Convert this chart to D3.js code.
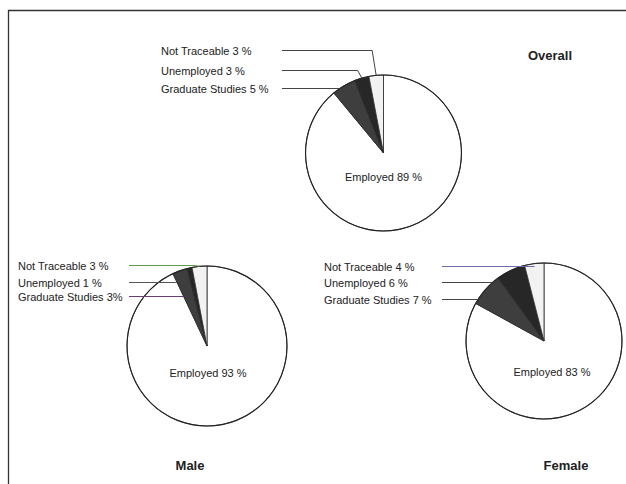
<!DOCTYPE html>
<html>
<head>
<meta charset="utf-8">
<script src="https://cdn.jsdelivr.net/npm/d3@7"></script>
<style>
  html, body { margin: 0; padding: 0; background: #fff; }
  svg { display: block; }
</style>
</head>
<body>
<div id="chart"></div>
<script>
// Slice order follows the pie clockwise from 12 o'clock
const categories = ["Employed", "Graduate Studies", "Unemployed", "Not Traceable"];
const overallValues = [89, 5, 3, 3];
const maleValues = [93, 3, 1, 3];
const femaleValues = [83, 7, 6, 4];
// Leader labels are listed top to bottom
const labelOrder = ["Not Traceable", "Unemployed", "Graduate Studies"];
const chartTitles = ["Overall", "Male", "Female"];

const W = 626, H = 484;

const fills = {
    "Employed": "#ffffff",
    "Graduate Studies": "#3e3e3e",
    "Unemployed": "#272727",
    "Not Traceable": "#f2f2f2"
};

// layout for each panel
const panels = [
    { title: chartTitles[0], values: overallValues, cx: 383.5, cy: 153, r: 78,
      labelX: 161, lineX0: 282, baselines: [55, 75, 93],
      titleX: 550, titleY: 60, mainDx: 0, mainDy: 28,
      lineColors: ["#444", "#444", "#444"], sep: [" %", " %", " %"] },
    { title: chartTitles[1], values: maleValues, cx: 207, cy: 346, r: 80,
      labelX: 18, lineX0: 129, baselines: [270, 287, 301],
      titleX: 190, titleY: 470, mainDx: 1, mainDy: 31,
      lineColors: ["#5f9a4c", "#555", "#6a3c78"], sep: [" %", " %", "%"] },
    { title: chartTitles[2], values: femaleValues, cx: 544, cy: 341, r: 78,
      labelX: 324, lineX0: 442, baselines: [271, 287, 304],
      titleX: 566, titleY: 470, mainDx: 8, mainDy: 35,
      lineColors: ["#6b6fa6", "#444", "#444"], sep: [" %", " %", " %"] }
];

const svg = d3.select('#chart').append('svg')
    .attr('width', W)
    .attr('height', H)
    .style('font-family', 'Liberation Sans, Arial, sans-serif');

// scanned page frame (left and top edges)
svg.append('path')
    .attr('d', `M8.5,${H} L8.5,10.5 L${W},10.5`)
    .attr('fill', 'none')
    .attr('stroke', '#333')
    .attr('stroke-width', 1.3);

const pie = d3.pie().sort(null).value(d => d.value);

panels.forEach(p => {
    const data = categories.map((c, i) => ({ cat: c, value: p.values[i] }));
    const arcs = pie(data);
    const arc = d3.arc().innerRadius(0).outerRadius(p.r);

    const g = svg.append('g').attr('transform', `translate(${p.cx},${p.cy})`);

    g.selectAll('path.slice')
        .data(arcs)
        .join('path')
        .attr('class', 'slice')
        .attr('d', arc)
        .attr('fill', d => fills[d.data.cat])
        .attr('stroke', '#2a2a2a')
        .attr('stroke-width', 0.8);

    g.append('circle')
        .attr('r', p.r)
        .attr('fill', 'none')
        .attr('stroke', '#222')
        .attr('stroke-width', 1.1);

    // Employed label inside the big slice
    const emp = arcs[0];
    g.append('text')
        .attr('x', p.mainDx)
        .attr('y', p.mainDy)
        .attr('text-anchor', 'middle')
        .attr('font-size', 11)
        .attr('fill', '#222')
        .text(`${emp.data.cat} ${emp.data.value} %`);

    // angle where the employed slice ends (start of the small slices)
    const wedgeStart = emp.endAngle;

    // leader labels
    labelOrder.forEach((cat, k) => {
        const a = arcs.find(d => d.data.cat === cat);
        const val = a.data.value;
        const base = p.baselines[k];
        const ly = base - 4.5;
        const dy = p.cy - ly;

        svg.append('text')
            .attr('x', p.labelX)
            .attr('y', base)
            .attr('font-size', 11)
            .attr('fill', '#222')
            .text(`${cat} ${val}${p.sep[k]}`);

        const mid = (a.startAngle + a.endAngle) / 2;
        const arcY = p.cy - p.r * Math.cos(mid);
        let pts;
        if (ly < arcY) {
            // label sits above the slice: elbow down to the rim
            const tx = p.cx + p.r * Math.sin(mid);
            pts = [[p.lineX0, ly], [tx - 4, ly], [tx, arcY]];
        } else if (k === 0) {
            const rho = Math.min(p.r, dy / Math.cos(mid));
            pts = [[p.lineX0, ly], [p.cx + rho * Math.sin(mid), ly]];
        } else {
            // run to the rim, or on into the pie up to the small-slice wedge
            const edgeX = p.cx - Math.sqrt(Math.max(0, p.r * p.r - dy * dy));
            const wedgeX = p.cx + dy * Math.tan(wedgeStart);
            pts = [[p.lineX0, ly], [Math.max(edgeX, wedgeX), ly]];
        }
        svg.append('path')
            .attr('d', d3.line()(pts))
            .attr('fill', 'none')
            .attr('stroke', p.lineColors[k])
            .attr('stroke-width', 1);
    });

    svg.append('text')
        .attr('x', p.titleX)
        .attr('y', p.titleY)
        .attr('text-anchor', 'middle')
        .attr('font-size', 13)
        .attr('font-weight', 'bold')
        .attr('fill', '#222')
        .text(p.title);
});
</script>
</body>
</html>
